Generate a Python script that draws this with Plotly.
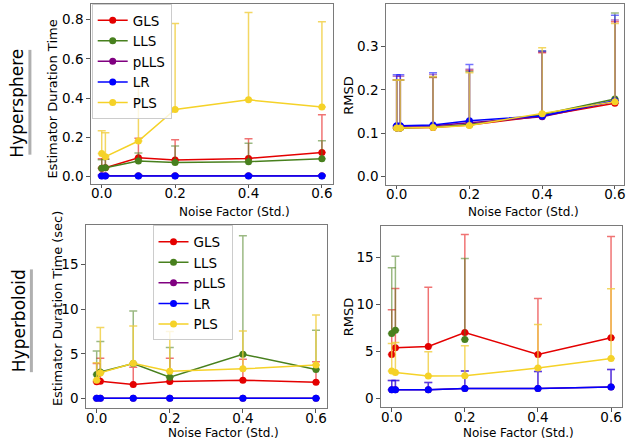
import plotly.graph_objects as go

W, H = 627, 445
FONT = "DejaVu Sans"

# ---------------- data ----------------
noise = [0.0, 0.01, 0.1, 0.2, 0.4, 0.6]
methods = ["GLS", "LLS", "pLLS", "LR", "PLS"]
colors = {"GLS": "rgb(228,0,0)", "LLS": "rgb(72,128,30)", "pLLS": "rgb(128,0,128)",
          "LR": "rgb(0,0,255)", "PLS": "rgb(245,210,40)"}
err_colors = {"GLS": "rgba(228,0,0,0.55)", "LLS": "rgba(72,128,30,0.55)", "pLLS": "rgba(128,0,128,0.5)",
              "LR": "rgba(0,0,255,0.55)", "PLS": "rgba(240,205,60,0.8)"}

# Hypersphere - estimator duration time
sph_time_mean = {
    "GLS": [0.042, 0.045, 0.096, 0.084, 0.092, 0.123],
    "LLS": [0.042, 0.045, 0.079, 0.071, 0.076, 0.091],
    "pLLS": [0.004, 0.004, 0.004, 0.004, 0.004, 0.004],
    "LR": [0.003, 0.003, 0.003, 0.003, 0.003, 0.003],
    "PLS": [0.117, 0.101, 0.181, 0.342, 0.391, 0.354],
}
sph_time_up = {
    "GLS": [0.091, 0.090, 0.195, 0.187, 0.193, 0.315],
    "LLS": [0.085, 0.088, 0.120, 0.156, 0.170, 0.183],
    "pLLS": [0.008, 0.008, 0.008, 0.008, 0.008, 0.008],
    "LR": [0.006, 0.006, 0.006, 0.006, 0.006, 0.006],
    "PLS": [0.233, 0.223, 0.469, 0.780, 0.837, 0.790],
}
sph_time_lo = {
    "GLS": [0.005, 0.010, 0.028, 0.034, 0.025, 0.022],
    "LLS": [0.004, 0.008, 0.059, 0.020, 0.023, 0.015],
    "pLLS": [0.001, 0.001, 0.001, 0.001, 0.001, 0.001],
    "LR": [0.001, 0.001, 0.001, 0.001, 0.001, 0.001],
    "PLS": [0.0, 0.0, 0.010, 0.030, 0.113, 0.020],
}

# Hypersphere - RMSD
sph_rmsd_mean = {
    "GLS": [0.112, 0.112, 0.113, 0.119, 0.140, 0.169],
    "LLS": [0.112, 0.112, 0.114, 0.120, 0.143, 0.179],
    "pLLS": [0.116, 0.116, 0.117, 0.124, 0.138, 0.174],
    "LR": [0.117, 0.117, 0.119, 0.129, 0.140, 0.175],
    "PLS": [0.112, 0.112, 0.113, 0.118, 0.145, 0.173],
}
sph_rmsd_up = {
    "GLS": [0.223, 0.223, 0.229, 0.245, 0.286, 0.358],
    "LLS": [0.223, 0.223, 0.230, 0.243, 0.290, 0.378],
    "pLLS": [0.232, 0.232, 0.236, 0.248, 0.288, 0.362],
    "LR": [0.235, 0.235, 0.240, 0.259, 0.290, 0.373],
    "PLS": [0.223, 0.223, 0.231, 0.240, 0.298, 0.354],
}
sph_rmsd_lo = {
    "GLS": [0.0, 0.0, 0.001, 0.003, 0.008, 0.010],
    "LLS": [0.0, 0.0, 0.001, 0.003, 0.010, 0.015],
    "pLLS": [0.0, 0.0, 0.001, 0.004, 0.007, 0.007],
    "LR": [0.0, 0.0, 0.001, 0.004, 0.006, 0.012],
    "PLS": [0.0, 0.0, 0.001, 0.003, 0.012, 0.018],
}

# Hyperboloid - estimator duration time (sec)
hyp_time_mean = {
    "GLS": [1.86, 1.93, 1.56, 1.90, 2.04, 1.82],
    "LLS": [2.68, 2.97, 3.90, 2.38, 4.95, 3.24],
    "pLLS": [0.01, 0.01, 0.01, 0.01, 0.01, 0.01],
    "LR": [0.01, 0.01, 0.01, 0.01, 0.01, 0.01],
    "PLS": [2.04, 2.86, 3.94, 3.05, 3.31, 3.75],
}
hyp_time_up = {
    "GLS": [3.90, 4.50, 3.50, 4.50, 4.40, 4.10],
    "LLS": [5.30, 6.37, 9.79, 5.70, 18.20, 7.63],
    "pLLS": [0.02, 0.02, 0.02, 0.02, 0.02, 0.02],
    "LR": [0.02, 0.02, 0.02, 0.02, 0.02, 0.02],
    "PLS": [4.00, 7.93, 8.11, 7.48, 7.55, 9.34],
}
hyp_time_lo = {
    "GLS": [0.30, 0.30, 0.40, 0.60, 0.30, 0.60],
    "LLS": [0.20, 0.00, 1.05, 0.70, 2.60, 0.85],
    "pLLS": [0.0, 0.0, 0.0, 0.0, 0.0, 0.0],
    "LR": [0.0, 0.0, 0.0, 0.0, 0.0, 0.0],
    "PLS": [0.20, 0.70, 0.55, 0.50, 0.80, 1.00],
}

# Hyperboloid - RMSD
hyp_rmsd_mean = {
    "GLS": [4.67, 5.38, 5.52, 7.00, 4.67, 6.44],
    "LLS": [6.90, 7.25, None, 6.26, None, None],
    "pLLS": [0.92, 0.92, 0.93, 1.06, 1.06, 1.20],
    "LR": [0.92, 0.92, 0.93, 1.06, 1.06, 1.20],
    "PLS": [2.90, 2.76, 2.37, 2.41, 3.22, 4.25],
}
hyp_rmsd_up = {
    "GLS": [9.41, 11.68, 11.82, 17.40, 10.60, 17.20],
    "LLS": [13.87, 15.10, None, 14.86, None, None],
    "pLLS": [1.91, 1.90, 1.70, 2.90, 2.87, 3.08],
    "LR": [1.91, 1.90, 1.70, 2.90, 2.87, 3.08],
    "PLS": [5.84, 5.94, 4.96, 5.60, 7.86, 11.65],
}
hyp_rmsd_lo = {
    "GLS": [0.00, 0.50, 0.67, 1.94, 1.24, 3.96],
    "LLS": [0.07, 0.50, None, 1.70, None, None],
    "pLLS": [0.0, 0.0, 0.07, 0.25, 0.39, 0.42],
    "LR": [0.0, 0.0, 0.07, 0.25, 0.39, 0.42],
    "PLS": [0.0, 0.0, 0.14, 0.21, 1.31, 1.66],
}

x_ticks = [0.0, 0.2, 0.4, 0.6]
x_tick_text = ["0.0", "0.2", "0.4", "0.6"]

# ---------------- helpers ----------------
def px(x):
    return x / W

def py(y):
    return 1 - y / H

def diff(a, b, sign):
    out = []
    for u, v in zip(a, b):
        if u is None or v is None:
            out.append(None)
        else:
            out.append(max(0.0, sign * (u - v)))
    return out

fig = go.Figure()

panels = [
    ("x", "y", sph_time_mean, sph_time_up, sph_time_lo, "legend"),
    ("x2", "y2", sph_rmsd_mean, sph_rmsd_up, sph_rmsd_lo, None),
    ("x3", "y3", hyp_time_mean, hyp_time_up, hyp_time_lo, "legend2"),
    ("x4", "y4", hyp_rmsd_mean, hyp_rmsd_up, hyp_rmsd_lo, None),
]

for xa, ya, mean, up, lo, leg in panels:
    for m in methods:
        kw = {}
        if leg:
            kw["legend"] = leg
        fig.add_trace(go.Scatter(
            x=noise, y=mean[m], name=m, xaxis=xa, yaxis=ya,
            mode="lines+markers",
            line=dict(color=colors[m], width=1.5),
            marker=dict(color=colors[m], size=7),
            error_y=dict(type="data", symmetric=False,
                         array=diff(up[m], mean[m], 1),
                         arrayminus=diff(mean[m], lo[m], -1),
                         color=err_colors[m], thickness=1.5, width=4),
            showlegend=leg is not None,
            connectgaps=False,
            **kw,
        ))

axis_common = dict(showline=True, mirror=True, linecolor="#7a7a7a", linewidth=1,
                   ticks="outside", ticklen=3.5, tickcolor="#555", showgrid=False,
                   zeroline=False, tickfont=dict(family=FONT, size=13.5, color="black"))

def xaxis(dom, anchor, rng):
    return dict(domain=dom, anchor=anchor, range=rng, tickvals=x_ticks,
                ticktext=x_tick_text, ticklabelstandoff=-6, ticklabeloverflow="allow",
                **axis_common)

def yaxis(dom, anchor, rng, tv, tt):
    return dict(domain=dom, anchor=anchor, range=rng, tickvals=tv, ticktext=tt, **axis_common)

fig.update_layout(
    width=W, height=H,
    margin=dict(l=0, r=0, t=0, b=0),
    paper_bgcolor="white", plot_bgcolor="white",
    font=dict(family=FONT, size=13, color="black"),
    xaxis=xaxis([px(91), px(334)], "y", [-0.03, 0.63]),
    yaxis=yaxis([py(184), py(4)], "x", [-0.036, 0.88],
                [0, 0.2, 0.4, 0.6, 0.8], ["0.0", "0.2", "0.4", "0.6", "0.8"]),
    xaxis2=xaxis([px(387), px(626)], "y2", [-0.03, 0.625]),
    yaxis2=yaxis([py(185), py(4)], "x2", [-0.019, 0.399],
                 [0, 0.1, 0.2, 0.3], ["0.0", "0.1", "0.2", "0.3"]),
    xaxis3=xaxis([px(86), px(328)], "y3", [-0.03, 0.63]),
    yaxis3=yaxis([py(409), py(226)], "x3", [-1.08, 19.36],
                 [0, 5, 10, 15], ["0", "5", "10", "15"]),
    xaxis4=xaxis([px(382), px(624)], "y4", [-0.03, 0.63]),
    yaxis4=yaxis([py(408), py(227)], "x4", [-0.92, 18.26],
                 [0, 5, 10, 15], ["0", "5", "10", "15"]),
    legend=dict(x=px(92), y=py(4), xanchor="left", yanchor="top",
                bgcolor="rgba(255,255,255,0.8)", bordercolor="#cccccc", borderwidth=1,
                font=dict(family=FONT, size=13.5), tracegroupgap=0),
    legend2=dict(x=px(153), y=py(226), xanchor="left", yanchor="top",
                 bgcolor="rgba(255,255,255,0.8)", bordercolor="#cccccc", borderwidth=1,
                 font=dict(family=FONT, size=13.5), tracegroupgap=0),
)

ann = []
def text(x, y, s, size=13, angle=0):
    ann.append(dict(x=px(x), y=py(y), xref="paper", yref="paper", text=s, showarrow=False,
                    textangle=angle, xanchor="center", yanchor="middle",
                    font=dict(family=FONT, size=size, color="black")))

text(235, 212, "Noise Factor (Std.)", 12)
text(525, 212, "Noise Factor (Std.)", 12)
text(224, 434, "Noise Factor (Std.)", 12)
text(520, 434, "Noise Factor (Std.)", 12)
text(53, 99, "Estimator Duration Time", 13, -90)
text(57, 309, "Estimator Duration Time (sec)", 13, -90)
text(350, 95, "RMSD", 13, -90)
text(349, 317, "RMSD", 13, -90)
text(17, 103, "Hypersphere", 17, -90)
text(19, 321, "Hyperboloid", 17, -90)
fig.update_layout(annotations=ann)

fig.add_shape(type="line", xref="paper", yref="paper", x0=px(30), x1=px(30), y0=py(50), y1=py(155),
              line=dict(color="#b0b0b0", width=3))
fig.add_shape(type="line", xref="paper", yref="paper", x0=px(31.5), x1=px(31.5), y0=py(270), y1=py(373),
              line=dict(color="#b0b0b0", width=3))

fig.write_html("out.html")
